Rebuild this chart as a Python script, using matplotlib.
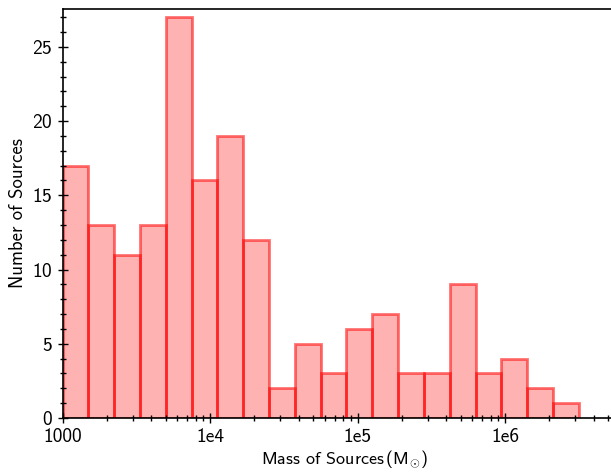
import numpy as np
import matplotlib
matplotlib.use("Agg")
import matplotlib.pyplot as plt
from matplotlib.ticker import MultipleLocator, LogLocator, NullFormatter

# counts per log-spaced mass bin
counts = [17, 13, 11, 13, 27, 16, 19, 12, 2, 5, 3, 6, 7, 3, 3, 9, 3, 4, 2, 1]
edges = np.logspace(3, 6.5, len(counts) + 1)
tick_vals = [1e3, 1e4, 1e5, 1e6]
tick_labels = ["1000", "1e4", "1e5", "1e6"]

plt.rcParams['font.family'] = ['cmss10', 'DejaVu Sans']
plt.rcParams['mathtext.fontset'] = 'custom'
plt.rcParams['mathtext.rm'] = 'cmss10'
plt.rcParams['mathtext.it'] = 'cmss10'
plt.rcParams['mathtext.sf'] = 'cmss10'
plt.rcParams['axes.formatter.use_mathtext'] = True

fig = plt.figure(figsize=(6.11, 4.74), dpi=100)
ax = fig.add_axes([62.5/611, 1-418/474, 563/611, 409/474])

ax.hist(edges[:-1], bins=edges, weights=counts,
        facecolor=(1, 0, 0, 0.3), edgecolor=(1, 0, 0, 0.55), linewidth=2)

ax.set_xscale('log')
ax.set_xlim(1e3, 10**(3 + 563/147.5))
ax.set_ylim(0, 27.55)
ax.set_xticks(tick_vals)
ax.set_xticklabels(tick_labels)
ax.xaxis.set_minor_locator(LogLocator(base=10, subs=np.arange(2, 10)))
ax.xaxis.set_minor_formatter(NullFormatter())
ax.yaxis.set_major_locator(MultipleLocator(5))
ax.yaxis.set_minor_locator(MultipleLocator(1))

ax.tick_params(which='major', direction='inout', length=7, width=1, labelsize=14)
ax.tick_params(which='minor', direction='inout', length=4, width=1)
for s in ax.spines.values():
    s.set_linewidth(1.2)

ax.set_xlabel(r'Mass of Sources$\,$(M$_{\odot}$)', fontsize=13, labelpad=2)
ax.set_ylabel('Number of Sources', fontsize=13.5, labelpad=4)

fig.savefig('out.png', dpi=100)
